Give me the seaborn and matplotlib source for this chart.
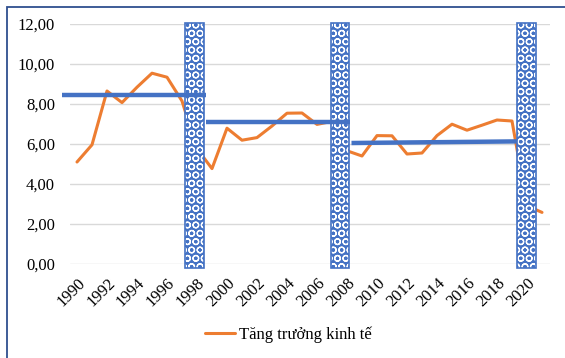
import matplotlib
matplotlib.use("Agg")
import matplotlib.pyplot as plt
from matplotlib.patches import Rectangle
import pandas as pd
import seaborn as sns

# yearly growth rate (%)
years = list(range(1990, 2022))
growth = [5.10, 5.96, 8.65, 8.07, 8.84, 9.54, 9.34, 8.15, 5.76, 4.77,
          6.79, 6.19, 6.32, 6.90, 7.54, 7.55, 6.98, 7.13, 5.66, 5.40,
          6.42, 6.41, 5.50, 5.55, 6.42, 6.99, 6.69, 6.94, 7.20, 7.15,
          2.91, 2.58]

# crisis bands (year span drawn as patterned bars)
crisis_from = [1997.2, 2006.9, 2019.35]
crisis_to = [1998.5, 2008.15, 2020.6]
crisis_low = -0.2
crisis_high = 12.05

# period average segments
avg_x0 = [1989.0, 1998.6, 2008.3]
avg_x1 = [1998.6, 2008.2, 2019.3]
avg_y0 = [8.45, 7.12, 6.05]
avg_y1 = [8.45, 7.12, 6.13]

ytick_vals = [0, 2, 4, 6, 8, 10, 12]
ytick_labels = ["0,00", "2,00", "4,00", "6,00", "8,00", "10,00", "12,00"]
xtick_vals = list(range(1990, 2021, 2))
legend_label = "Tăng trưởng kinh tế"

orange = "#ED7D31"
blue = "#4472C4"

sns.set_style("white")
plt.rcParams["font.family"] = ["Liberation Serif", "DejaVu Serif"]
plt.rcParams["hatch.linewidth"] = 0.9

df = pd.DataFrame({"year": years, "growth": growth})

fig = plt.figure(figsize=(5.65, 3.58), dpi=100)
ax = fig.add_axes([69.5 / 565, 1 - 264 / 358, 480 / 565, 240 / 358])

sns.lineplot(data=df, x="year", y="growth", color=orange, linewidth=2.2,
             label=legend_label, ax=ax, zorder=2)

# patterned crisis bars
widths = [b - a for a, b in zip(crisis_from, crisis_to)]
ax.bar(crisis_from, crisis_high - crisis_low, width=widths, bottom=crisis_low,
       align="edge", color=blue, edgecolor="white", linewidth=0, hatch="OO",
       zorder=3, clip_on=False)
ax.bar(crisis_from, crisis_high - crisis_low, width=widths, bottom=crisis_low,
       align="edge", fill=False, edgecolor=blue, linewidth=1.2,
       zorder=3, clip_on=False)

# period averages
for x0, x1, y0, y1 in zip(avg_x0, avg_x1, avg_y0, avg_y1):
    ax.plot([x0, x1], [y0, y1], color=blue, linewidth=3.2,
            solid_capstyle="butt", zorder=4, clip_on=False)

ax.set_xlim(1989.5, 2021.5)
ax.set_ylim(0, 12)
ax.set_yticks(ytick_vals)
ax.set_yticklabels(ytick_labels)
ax.set_xticks(xtick_vals)
ax.set_xticklabels([str(y) for y in xtick_vals], rotation=45, ha="right",
                   rotation_mode="anchor")
ax.tick_params(axis="y", length=0, pad=10.5, labelsize=12, colors="black")
ax.tick_params(axis="x", length=0, pad=8, labelsize=12, colors="black")
ax.set_xlabel("")
ax.set_ylabel("")
ax.grid(axis="y", color="#D9D9D9", linewidth=1.0, zorder=0)
ax.grid(axis="x", visible=False)
ax.set_axisbelow(True)
sns.despine(ax=ax, left=True, bottom=True)

leg = ax.legend(loc="center", bbox_to_anchor=(288 / 565, 1 - 335 / 358),
                bbox_transform=fig.transFigure, frameon=False, fontsize=12,
                handlelength=1.8, handletextpad=0.25)
for t in leg.get_texts():
    t.set_color("black")

# outer frame (only top and left edges fall inside the picture)
fig.add_artist(Rectangle((7 / 565, -0.1), 1.2, 0.1 + 1 - 7 / 358,
                         transform=fig.transFigure, fill=False,
                         edgecolor="#2F4F8F", linewidth=1.3))

fig.savefig("out.png", dpi=100)
